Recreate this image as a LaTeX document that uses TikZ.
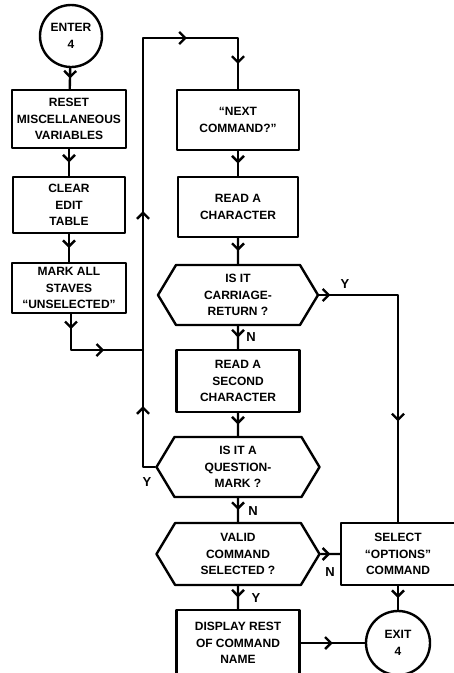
\documentclass[tikz,border=0pt]{standalone}
\usepackage{fontspec}
\setmainfont{Liberation Sans}
\usetikzlibrary{shapes.symbols,decorations.markings,arrows.meta}
\tikzset{
  box/.style 2 args={draw,align=center,inner sep=1pt,minimum width=#1,minimum height=#2},
  hexa/.style 2 args={draw,signal,signal to=east and west,signal pointer angle=118,
    align=center,inner sep=1pt,minimum width=#1,minimum height=#2},
  term/.style={draw,circle,align=center,inner sep=0pt,minimum size=#1},
  lbl/.style={inner sep=0pt,font=\bfseries\fontsize{13}{13}\selectfont},
  arr/.style={postaction={decorate,decoration={markings,
    mark=at position #1 with {\arrow{Straight Barb[length=6pt,width=12pt]}}}}},
  arr/.default=0.5
}
\begin{document}
\begin{tikzpicture}[x=1pt,y=-1pt,line width=2.4pt,line join=round,line cap=round,
  font=\bfseries\fontsize{12}{16.5}\selectfont]
\useasboundingbox (0,0) rectangle (454,673);
\clip (0,0) rectangle (454,673);
\node[term=62pt] (enter) at (71,36) {ENTER\\4};
\node[box={114pt}{58pt}] (reset) at (69,119) {RESET\\MISCELLANEOUS\\VARIABLES};
\node[box={112pt}{56pt}] (clear) at (69,205) {CLEAR\\EDIT\\TABLE};
\node[box={114pt}{50pt}] (unsel) at (69,288) {MARK ALL\\STAVES\\``UNSELECTED''};
\node[box={122pt}{60pt}] (prompt) at (238,120) {``NEXT\\COMMAND?''};
\node[box={120pt}{60pt}] (readA) at (238,207) {READ A\\CHARACTER};
\node[hexa={160pt}{60pt}] (isCR) at (238,295) {IS IT\\CARRIAGE-\\RETURN ?};
\node[box={123pt}{62pt}] (readB) at (238,381) {READ A\\SECOND\\CHARACTER};
\node[hexa={163pt}{60pt}] (isQ) at (238,467) {IS IT A\\QUESTION-\\MARK ?};
\node[hexa={163pt}{62pt}] (valid) at (238,554) {VALID\\COMMAND\\SELECTED ?};
\node[box={114pt}{62pt}] (options) at (398,554) {SELECT\\``OPTIONS''\\COMMAND};
\node[box={123pt}{66pt}] (display) at (238,643) {DISPLAY REST\\OF COMMAND\\NAME};
\node[term=64pt] (exit) at (398,643) {EXIT\\4};
\coordinate (jbend) at (71,350);
\coordinate (jin) at (143,350);
\coordinate (lpbot) at (isQ.west -| jin);
\coordinate (lptop) at (143,38);
\coordinate (lpright) at (prompt.north |- lptop);
\coordinate (crbend) at (options.north |- isCR.east);
\draw[arr] (enter) -- (reset);
\draw[arr] (reset) -- (clear);
\draw[arr] (clear) -- (unsel);
\draw[arr=15pt,arr=69pt] (unsel.south -| jbend) -- (jbend) -- (jin);
\draw[arr=73pt,arr=268pt,arr=485pt,arr=562pt] (isQ.west) -- (lpbot) -- (lptop) -- (lpright) -- (prompt);
\draw[arr] (prompt) -- (readA);
\draw[arr] (readA) -- (isCR);
\draw[arr] (isCR) -- (readB);
\draw[arr] (readB) -- (isQ);
\draw[arr] (isQ) -- (valid);
\draw[arr] (valid) -- (display);
\draw[arr] (valid) -- (options);
\draw[arr=11pt,arr=205pt] (isCR.east) -- (crbend) -- (options);
\draw[arr] (options) -- (exit);
\draw[arr] (display) -- (exit);
\node[lbl] (yCR) at (345,284) {Y};
\node[lbl] (nCR) at (251,337) {N};
\node[lbl] (yQ) at (147,482) {Y};
\node[lbl] (nQ) at (253,511) {N};
\node[lbl] (nV) at (330,572) {N};
\node[lbl] (yV) at (256,598) {Y};
\end{tikzpicture}
\end{document}
